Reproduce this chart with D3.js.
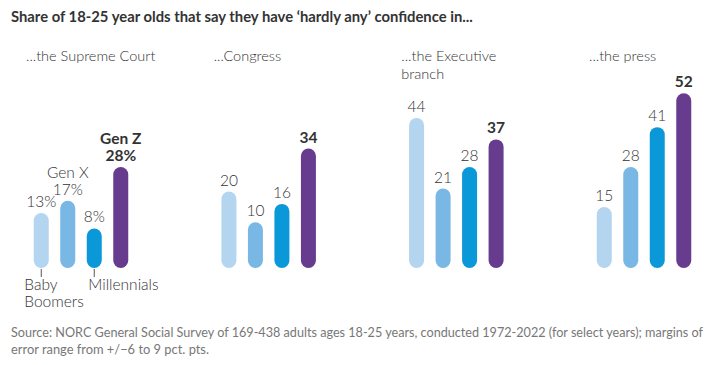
<!DOCTYPE html>
<html>
<head>
<meta charset="utf-8">
<script src="https://cdn.jsdelivr.net/npm/d3@7"></script>
<style>
  body { margin: 0; background: #fff; }
  svg { display: block; }
  text { font-family: Lato, "Noto Sans", sans-serif; fill: #333; }
</style>
</head>
<body>
<div id="chart"></div>
<script>
const panels = ["Supreme Court", "Congress", "Executive branch", "The press"];
const panelTitles = [["...the Supreme Court"], ["...Congress"], ["...the Executive", "branch"], ["...the press"]];
const generations = ["Baby Boomers", "Gen X", "Millennials", "Gen Z"];
const supremeCourt = [13, 17, 8, 28];
const congress = [20, 10, 16, 34];
const executive = [44, 21, 28, 37];
const press = [15, 28, 41, 52];
const seriesValues = [supremeCourt, congress, executive, press];
const colors = ["#b4d5f0", "#79b7e5", "#0b98d9", "#673b8d"];

const title = "Share of 18-25 year olds that say they have \u2018hardly any\u2019 confidence in...";
const sourceLines = [
  "Source: NORC General Social Survey of 169-438 adults ages 18-25 years, conducted 1972-2022 (for select years); margins of",
  "error range from +/\u22126 to 9 pct. pts."
];
const sourceWidths = [692, 198];

const width = 725;
const height = 365;

const svg = d3.select('#chart')
    .append('svg')
    .attr('width', width)
    .attr('height', height)

const px = d3.scalePoint().domain(panels).range([81, 644]);
const gx = d3.scalePoint().domain(generations).range([-39.75, 39.75]);
const y = d3.scaleLinear().domain([0, 52]).range([260.5, 260.5 - 3.07 * 52]);
const color = d3.scaleOrdinal().domain(generations).range(colors);
const barW = 15;
const r = barW / 2;

svg.append('text')
    .attr('x', 11)
    .attr('y', 22)
    .attr('font-size', 14.8)
    .attr('font-weight', 700)
    .text(title)

const panel = svg.selectAll('g.panel')
    .data(panels)
    .enter()
    .append('g')
    .attr('class', 'panel')
    .attr('transform', d => `translate(${px(d)},0)`)

panel.append('text')
    .attr('x', -55)
    .attr('y', 61)
    .attr('font-size', 14.5)
    .attr('font-weight', 300)
    .selectAll('tspan')
    .data((d, i) => panelTitles[i])
    .enter()
    .append('tspan')
    .attr('x', -55)
    .attr('dy', (d, i) => i === 0 ? 0 : 17.5)
    .text(d => d)

panel.each(function (p, pi) {
    const g = d3.select(this);
    const vals = seriesValues[pi].map((v, i) => ({ gen: generations[i], v: v, i: i }));

    g.selectAll('rect')
        .data(vals)
        .enter()
        .append('rect')
        .attr('x', d => gx(d.gen) - r)
        .attr('y', d => y(d.v) - r)
        .attr('width', barW)
        .attr('height', d => y(0) - y(d.v) + barW)
        .attr('rx', r)
        .attr('fill', d => color(d.gen))

    const lab = g.selectAll('text.val')
        .data(vals)
        .enter()
        .append('text')
        .attr('class', 'val')
        .attr('x', d => gx(d.gen))
        .attr('y', d => y(d.v) - r - 6)
        .attr('text-anchor', 'middle')
        .attr('font-size', 15.5)
        .attr('font-weight', d => d.gen === "Gen Z" ? 700 : 300)

    if (pi === 0) {
        lab.text(d => d.v + '%')
        // generation names above Gen X and Gen Z
        g.selectAll('text.gen')
            .data(vals.filter(d => d.gen === "Gen X" || d.gen === "Gen Z"))
            .enter()
            .append('text')
            .attr('class', 'gen')
            .attr('x', d => gx(d.gen))
            .attr('y', d => y(d.v) - r - 23)
            .attr('text-anchor', 'middle')
            .attr('font-size', 15.5)
            .attr('font-weight', d => d.gen === "Gen Z" ? 700 : 300)
            .text(d => d.gen)

        // labels below Baby Boomers and Millennials
        const below = vals.filter(d => d.gen === "Baby Boomers" || d.gen === "Millennials");
        g.selectAll('line.tick')
            .data(below)
            .enter()
            .append('line')
            .attr('x1', d => gx(d.gen))
            .attr('x2', d => gx(d.gen))
            .attr('y1', y(0) + r + 1)
            .attr('y2', y(0) + r + 9)
            .attr('stroke', '#555')
            .attr('stroke-width', 1)

        g.append('text')
            .attr('x', gx("Baby Boomers") - 17)
            .attr('y', 290)
            .attr('font-size', 15.5)
            .attr('font-weight', 300)
            .selectAll('tspan')
            .data(["Baby", "Boomers"])
            .enter()
            .append('tspan')
            .attr('x', gx("Baby Boomers") - 17)
            .attr('dy', (d, i) => i === 0 ? 0 : 16.5)
            .text(d => d)

        g.append('text')
            .attr('x', gx("Millennials") - 6)
            .attr('y', 290)
            .attr('font-size', 15.5)
            .attr('font-weight', 300)
            .text("Millennials")
    } else {
        lab.text(d => d.v)
    }
})

svg.selectAll('text.source')
    .data(sourceLines)
    .enter()
    .append('text')
    .attr('class', 'source')
    .attr('x', 11)
    .attr('y', (d, i) => 337 + i * 16.5)
    .attr('font-size', 13)
    .attr('textLength', (d, i) => sourceWidths[i])
    .attr('lengthAdjust', 'spacingAndGlyphs')
    .style('fill', '#777')
    .text(d => d)
</script>
</body>
</html>
